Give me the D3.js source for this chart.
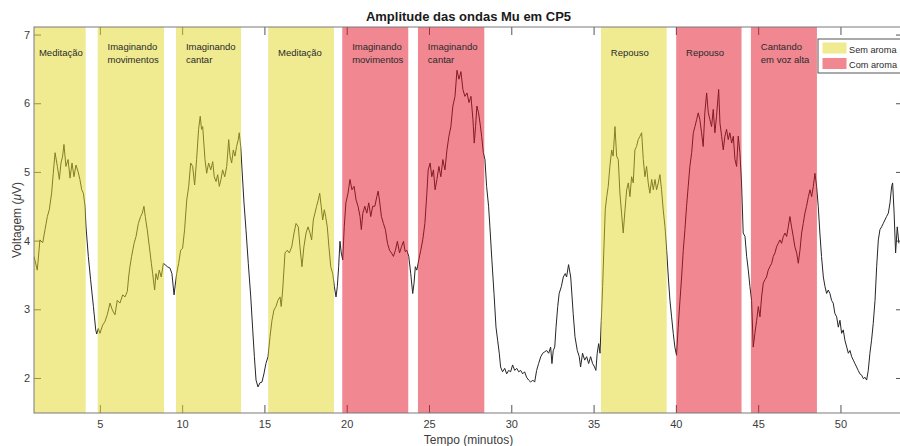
<!DOCTYPE html>
<html>
  <head>
    <meta charset="utf-8">
    <title>Amplitude das ondas Mu em CP5</title>
    <script src="https://d3js.org/d3.v7.min.js"></script>
    <style>
      body { margin: 0; background: #fff; }
      svg { display: block; font-family: "Liberation Sans", Arial, sans-serif; }
      .tick text { fill: #3c3c3c; font-size: 11px; }
      .tick line { stroke: #555; }
    </style>
  </head>
  <body>
    <svg id="chart" width="900" height="446"></svg>
    <script>
      // signal (minutes, µV)
      var timeMin = [
        1.00, 1.20, 1.36, 1.53, 1.67, 1.81, 1.93, 2.07, 2.17, 2.28, 2.42, 2.54, 2.64, 2.74, 2.82, 2.94,
        3.07, 3.19, 3.31, 3.43, 3.55, 3.67, 3.79, 3.90, 4.00, 4.10, 4.16, 4.30, 4.44, 4.61, 4.75, 4.81,
        4.91, 5.01, 5.17, 5.31, 5.45, 5.62, 5.76, 5.92, 6.06, 6.22, 6.39, 6.53, 6.67, 6.75, 6.83, 6.93,
        7.08, 7.20, 7.34, 7.48, 7.58, 7.68, 7.76, 7.88, 8.01, 8.13, 8.21, 8.33, 8.41, 8.51, 8.61, 8.73,
        8.86, 8.96, 9.10, 9.26, 9.38, 9.51, 9.58, 9.67, 9.79, 9.91, 10.03, 10.15, 10.28, 10.40, 10.52, 10.64,
        10.76, 10.88, 11.00, 11.10, 11.18, 11.25, 11.31, 11.39, 11.49, 11.61, 11.74, 11.86, 11.95, 12.06, 12.16, 12.26,
        12.36, 12.46, 12.59, 12.71, 12.83, 12.91, 13.01, 13.11, 13.21, 13.31, 13.41, 13.47, 13.56, 13.64, 13.76, 13.88,
        14.02, 14.17, 14.29, 14.39, 14.49, 14.61, 14.73, 14.85, 14.97, 15.09, 15.22, 15.34, 15.46, 15.58, 15.70, 15.82,
        15.95, 16.02, 16.11, 16.25, 16.39, 16.51, 16.66, 16.80, 16.92, 17.06, 17.16, 17.28, 17.40, 17.53, 17.65, 17.77,
        17.87, 17.97, 18.07, 18.17, 18.27, 18.36, 18.45, 18.54, 18.64, 18.72, 18.82, 18.92, 19.03, 19.15, 19.25, 19.35,
        19.43, 19.51, 19.59, 19.67, 19.76, 19.85, 19.95, 20.08, 20.20, 20.32, 20.45, 20.57, 20.69, 20.81, 20.89, 20.98,
        21.10, 21.22, 21.34, 21.46, 21.58, 21.71, 21.83, 21.91, 21.99, 22.11, 22.23, 22.35, 22.48, 22.60, 22.72, 22.84,
        22.96, 23.08, 23.21, 23.33, 23.45, 23.55, 23.65, 23.77, 23.89, 24.01, 24.09, 24.17, 24.26, 24.38, 24.50, 24.62,
        24.75, 24.87, 24.95, 25.07, 25.17, 25.27, 25.37, 25.48, 25.60, 25.72, 25.84, 25.97, 26.09, 26.21, 26.33, 26.45,
        26.58, 26.70, 26.82, 26.94, 27.06, 27.18, 27.31, 27.43, 27.55, 27.67, 27.75, 27.83, 27.91, 28.01, 28.10, 28.20,
        28.30, 28.40, 28.50, 28.62, 28.70, 28.82, 28.95, 29.07, 29.17, 29.27, 29.35, 29.47, 29.60, 29.72, 29.84, 29.96,
        30.08, 30.21, 30.33, 30.45, 30.57, 30.69, 30.81, 30.93, 31.05, 31.18, 31.30, 31.42, 31.54, 31.66, 31.79, 31.91,
        32.03, 32.15, 32.27, 32.39, 32.47, 32.55, 32.64, 32.72, 32.82, 32.91, 33.04, 33.16, 33.28, 33.36, 33.48, 33.61,
        33.76, 33.87, 34.01, 34.13, 34.21, 34.33, 34.46, 34.58, 34.70, 34.82, 34.94, 35.06, 35.14, 35.22, 35.31, 35.39,
        35.47, 35.55, 35.63, 35.71, 35.80, 35.89, 35.99, 36.10, 36.19, 36.30, 36.40, 36.50, 36.60, 36.70, 36.80, 36.91,
        37.01, 37.11, 37.21, 37.31, 37.41, 37.51, 37.61, 37.71, 37.82, 37.92, 38.02, 38.12, 38.22, 38.32, 38.42, 38.53,
        38.63, 38.73, 38.83, 38.93, 39.03, 39.13, 39.23, 39.34, 39.44, 39.54, 39.64, 39.74, 39.84, 39.94, 40.04, 40.14,
        40.25, 40.35, 40.45, 40.55, 40.65, 40.75, 40.85, 40.96, 41.06, 41.16, 41.26, 41.36, 41.46, 41.56, 41.66, 41.76,
        41.87, 41.97, 42.07, 42.17, 42.27, 42.37, 42.47, 42.60, 42.68, 42.78, 42.88, 42.98, 43.08, 43.18, 43.28, 43.39,
        43.49, 43.59, 43.69, 43.79, 43.89, 43.99, 44.09, 44.20, 44.30, 44.40, 44.50, 44.60, 44.70, 44.80, 44.91, 45.01,
        45.11, 45.21, 45.31, 45.41, 45.51, 45.61, 45.71, 45.82, 45.92, 46.02, 46.12, 46.22, 46.32, 46.42, 46.53, 46.63,
        46.73, 46.83, 46.93, 47.03, 47.13, 47.23, 47.34, 47.44, 47.54, 47.64, 47.74, 47.84, 47.94, 48.05, 48.15, 48.25,
        48.35, 48.45, 48.55, 48.65, 48.75, 48.85, 48.96, 49.06, 49.16, 49.26, 49.36, 49.46, 49.56, 49.66, 49.77, 49.87,
        49.97, 50.07, 50.17, 50.27, 50.38, 50.48, 50.58, 50.68, 50.78, 50.88, 50.98, 51.08, 51.18, 51.29, 51.39, 51.49,
        51.59, 51.69, 51.79, 51.89, 51.99, 52.10, 52.20, 52.30, 52.40, 52.50, 52.60, 52.70, 52.80, 52.91, 53.01, 53.11,
        53.17, 53.26, 53.35, 53.45, 53.55
      ];
      var voltage = [
        3.77, 3.57, 4.01, 3.97, 4.16, 4.35, 4.45, 4.69, 4.98, 5.28, 5.08, 4.89, 5.13, 5.23, 5.40, 5.08,
        5.18, 4.91, 5.13, 4.93, 5.10, 5.01, 4.89, 4.74, 4.69, 4.50, 4.20, 3.77, 3.43, 3.04, 2.70, 2.64,
        2.72, 2.65, 2.77, 2.82, 2.92, 3.09, 2.99, 2.92, 3.13, 3.09, 3.21, 3.18, 3.26, 3.47, 3.62, 3.77,
        3.96, 4.06, 4.25, 4.35, 4.40, 4.50, 4.35, 4.16, 3.91, 3.67, 3.52, 3.28, 3.52, 3.43, 3.57, 3.47,
        3.67, 3.65, 3.62, 3.60, 3.52, 3.21, 3.35, 3.52, 3.67, 3.86, 3.89, 4.16, 4.59, 4.79, 5.13, 5.08,
        4.81, 5.18, 5.62, 5.81, 5.62, 5.66, 5.45, 5.18, 4.98, 5.13, 5.03, 5.15, 4.93, 4.86, 4.96, 4.79,
        4.89, 5.03, 4.93, 5.08, 5.47, 5.23, 5.13, 5.32, 5.23, 5.37, 5.47, 5.57, 5.37, 5.03, 4.55, 4.16,
        3.67, 3.18, 2.70, 2.31, 1.97, 1.87, 1.93, 1.94, 2.06, 2.21, 2.31, 2.60, 2.84, 2.99, 3.04, 3.13,
        3.18, 3.04, 3.28, 3.82, 3.86, 3.82, 3.91, 4.11, 4.25, 4.20, 3.91, 3.62, 3.91, 4.11, 4.20, 4.11,
        4.01, 4.30, 4.40, 4.50, 4.59, 4.69, 4.50, 4.30, 4.45, 4.35, 4.20, 3.91, 3.62, 3.52, 3.33, 3.18,
        3.33, 3.62, 3.99, 3.82, 3.72, 4.20, 4.55, 4.69, 4.89, 4.74, 4.79, 4.59, 4.50, 4.35, 4.16, 4.40,
        4.50, 4.40, 4.55, 4.35, 4.50, 4.50, 4.64, 4.72, 4.59, 4.35, 4.25, 4.16, 3.96, 3.86, 3.82, 3.77,
        3.86, 3.99, 3.82, 3.91, 3.99, 3.84, 3.86, 3.77, 3.52, 3.23, 3.38, 3.62, 3.57, 3.72, 3.86, 4.01,
        4.25, 4.69, 5.03, 5.13, 4.93, 5.03, 4.74, 4.89, 5.08, 4.93, 5.18, 5.03, 5.32, 5.52, 5.66, 5.96,
        6.10, 6.48, 6.35, 6.46, 6.20, 6.10, 6.15, 6.01, 6.10, 5.76, 5.42, 5.66, 5.96, 5.86, 5.71, 5.52,
        5.28, 5.18, 4.79, 4.50, 4.20, 3.72, 3.23, 2.74, 2.55, 2.36, 2.16, 2.09, 2.14, 2.06, 2.11, 2.09,
        2.19, 2.11, 2.14, 2.09, 2.11, 2.06, 2.09, 2.01, 1.97, 1.94, 1.97, 1.94, 2.11, 2.21, 2.31, 2.36,
        2.38, 2.40, 2.36, 2.45, 2.21, 2.40, 2.45, 2.74, 3.04, 3.23, 3.33, 3.47, 3.52, 3.47, 3.65, 3.47,
        2.94, 2.60, 2.40, 2.31, 2.16, 2.36, 2.26, 2.31, 2.21, 2.31, 2.21, 2.16, 2.11, 2.36, 2.50, 2.36,
        2.84, 3.33, 3.91, 4.45, 4.64, 4.79, 5.08, 5.32, 5.23, 5.66, 5.23, 5.18, 4.69, 4.40, 4.11, 4.45,
        4.74, 4.84, 4.64, 4.93, 4.84, 5.32, 5.37, 5.47, 5.52, 5.57, 5.18, 4.93, 5.08, 4.84, 4.69, 4.89,
        4.74, 4.89, 4.74, 4.84, 4.96, 4.74, 4.45, 4.20, 3.86, 3.47, 3.13, 2.89, 2.65, 2.45, 2.33, 2.74,
        3.13, 3.47, 3.86, 4.16, 4.50, 4.79, 5.08, 5.28, 5.57, 5.66, 5.76, 5.86, 5.76, 5.57, 5.37, 5.86,
        6.15, 5.86, 5.76, 5.66, 5.91, 5.57, 5.81, 6.20, 5.71, 5.52, 5.32, 5.52, 5.62, 5.47, 5.57, 5.42,
        5.52, 5.18, 5.08, 5.52, 5.28, 4.84, 4.11, 4.06, 3.77, 3.57, 3.33, 3.13, 2.45, 2.65, 2.84, 3.04,
        2.89, 3.18, 3.38, 3.43, 3.47, 3.57, 3.62, 3.67, 3.77, 3.82, 3.91, 3.96, 4.01, 3.96, 4.06, 4.11,
        4.06, 4.20, 4.35, 4.20, 4.06, 3.91, 3.82, 3.67, 3.86, 4.11, 4.25, 4.40, 4.50, 4.64, 4.74, 4.64,
        4.79, 4.98, 4.79, 4.50, 4.11, 3.77, 3.47, 3.33, 3.23, 3.28, 3.23, 3.13, 3.09, 2.94, 2.89, 2.74,
        2.84, 2.65, 2.70, 2.55, 2.45, 2.36, 2.40, 2.31, 2.26, 2.21, 2.16, 2.11, 2.06, 2.04, 1.99, 2.01,
        1.97, 2.11, 2.36, 2.55, 2.79, 3.13, 3.62, 4.01, 4.16, 4.20, 4.25, 4.30, 4.35, 4.40, 4.55, 4.79,
        4.84, 4.40, 3.82, 4.20, 3.96
      ];

      // task blocks (minutes)
      var bandStart = [0.7, 4.87, 9.63, 15.23, 19.73, 24.33, 35.45, 40.02, 44.56];
      var bandEnd = [4.14, 8.90, 13.58, 19.23, 23.74, 28.36, 39.44, 43.99, 48.57];
      var bandGroup = ["Sem aroma", "Sem aroma", "Sem aroma", "Sem aroma", "Com aroma", "Com aroma", "Sem aroma", "Com aroma", "Com aroma"];
      var bandLabel = [
        ["Meditação"], ["Imaginando", "movimentos"], ["Imaginando", "cantar"], ["Meditação"],
        ["Imaginando", "movimentos"], ["Imaginando", "cantar"], ["Repouso"], ["Repouso"], ["Cantando", "em voz alta"]
      ];
      var legendGroups = ["Sem aroma", "Com aroma"];
      var xTicks = [5, 10, 15, 20, 25, 30, 35, 40, 45, 50];
      var yTicks = [2, 3, 4, 5, 6, 7];

      // layout
      var margin = { top: 27, right: -3, bottom: 33, left: 34 };
      var width = 900, height = 446;
      var svg = d3.select("#chart");
      var x = d3.scaleLinear().domain([1, 53.8]).range([margin.left, width - margin.right]);
      var y = d3.scaleLinear().domain([1.49, 7.11]).range([height - margin.bottom, margin.top]);
      var fillBase = d3.scaleOrdinal().domain(legendGroups).range(["rgb(226,213,35)", "rgb(225,15,35)"]);

      svg.append("clipPath").attr("id", "plotClip")
        .append("rect")
          .attr("x", margin.left)
          .attr("y", margin.top)
          .attr("width", x.range()[1] - margin.left)
          .attr("height", y.range()[0] - margin.top);

      // tick marks (inward, on all four sides)
      var tickLen = 8;
      svg.append("g")
        .attr("transform", "translate(0," + y.range()[0] + ")")
        .call(d3.axisBottom(x).tickValues(xTicks).tickSizeInner(-tickLen).tickSizeOuter(0).tickPadding(7))
        .call(function(g) { g.select(".domain").remove(); });
      svg.append("g")
        .attr("transform", "translate(0," + margin.top + ")")
        .call(d3.axisTop(x).tickValues(xTicks).tickSizeInner(-tickLen).tickSizeOuter(0).tickFormat(""))
        .call(function(g) { g.select(".domain").remove(); });
      svg.append("g")
        .attr("transform", "translate(" + margin.left + ",0)")
        .call(d3.axisLeft(y).tickValues(yTicks).tickFormat(d3.format("d")).tickSizeInner(-7).tickSizeOuter(0).tickPadding(4))
        .call(function(g) { g.select(".domain").remove(); });
      svg.append("g")
        .attr("transform", "translate(" + x.range()[1] + ",0)")
        .call(d3.axisRight(y).tickValues(yTicks).tickSizeInner(-7).tickSizeOuter(0).tickFormat(""))
        .call(function(g) { g.select(".domain").remove(); });

      // signal line
      var line = d3.line()
        .x(function(d, i) { return x(timeMin[i]); })
        .y(function(d) { return y(d); });
      svg.append("path")
        .attr("clip-path", "url(#plotClip)")
        .attr("d", line(voltage))
        .attr("fill", "none")
        .attr("stroke", "#262626")
        .attr("stroke-width", 1)
        .attr("stroke-linejoin", "round");

      // translucent task blocks over the line
      var bandG = svg.append("g").attr("clip-path", "url(#plotClip)");
      bandStart.forEach(function(s, i) {
        bandG.append("rect")
          .attr("x", x(s))
          .attr("y", margin.top)
          .attr("width", x(bandEnd[i]) - x(s))
          .attr("height", y.range()[0] - margin.top)
          .attr("fill", fillBase(bandGroup[i]))
          .attr("fill-opacity", 0.5);
      });

      // box
      svg.append("rect")
        .attr("x", margin.left)
        .attr("y", margin.top)
        .attr("width", x.range()[1] - margin.left)
        .attr("height", y.range()[0] - margin.top)
        .attr("fill", "none")
        .attr("stroke", "#7a7a7a")
        .attr("stroke-width", 1);

      // block labels
      bandLabel.forEach(function(lines, i) {
        var t = svg.append("text")
          .attr("x", x(bandStart[i] + 0.6))
          .attr("y", lines.length == 1 ? 56 : 49.5)
          .attr("font-size", "9.5px")
          .attr("fill", "#2a2a2a");
        lines.forEach(function(l, j) {
          t.append("tspan").attr("x", x(bandStart[i] + 0.6)).attr("dy", j == 0 ? 0 : 13).text(l);
        });
      });

      // legend
      var legend = svg.append("g").attr("transform", "translate(818,39)");
      legend.append("rect")
        .attr("width", 90)
        .attr("height", 34)
        .attr("fill", "#fff")
        .attr("stroke", "#555")
        .attr("stroke-width", 1);
      legendGroups.forEach(function(g, i) {
        legend.append("rect")
          .attr("x", 4.5)
          .attr("y", 3.5 + i * 15.5)
          .attr("width", 24)
          .attr("height", 11)
          .attr("fill", fillBase(g))
          .attr("fill-opacity", 0.5);
        legend.append("text")
          .attr("x", 31)
          .attr("y", 13.5 + i * 15.5)
          .attr("font-size", "9.2px")
          .attr("fill", "#2a2a2a")
          .text(g);
      });

      // titles
      svg.append("text")
        .attr("x", (margin.left + x.range()[1]) / 2)
        .attr("y", 21)
        .attr("text-anchor", "middle")
        .attr("font-size", "13px")
        .attr("font-weight", "bold")
        .attr("fill", "#1a1a1a")
        .text("Amplitude das ondas Mu em CP5");
      svg.append("text")
        .attr("x", (margin.left + x.range()[1]) / 2)
        .attr("y", 444)
        .attr("text-anchor", "middle")
        .attr("font-size", "12px")
        .attr("fill", "#3c3c3c")
        .text("Tempo (minutos)");
      var yl = svg.append("text")
        .attr("transform", "translate(21," + (margin.top + y.range()[0]) / 2 + ") rotate(-90)")
        .attr("text-anchor", "middle")
        .attr("font-size", "12px")
        .attr("fill", "#3c3c3c");
      yl.append("tspan").text("Voltagem (");
      yl.append("tspan").attr("font-style", "italic").text("μ");
      yl.append("tspan").text("V)");
    </script>
  </body>
</html>
